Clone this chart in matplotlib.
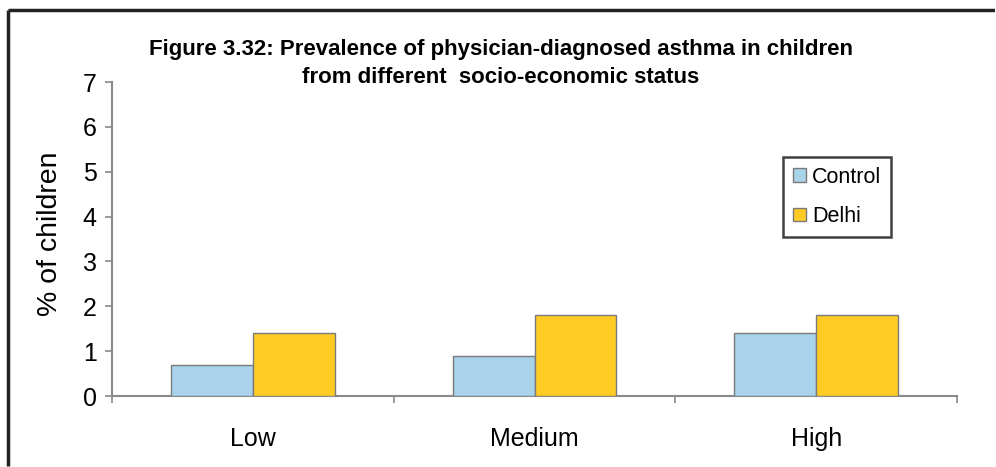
import matplotlib
matplotlib.use("Agg")
import matplotlib.pyplot as plt
from matplotlib.lines import Line2D
import numpy as np

categories = ["Low", "Medium", "High"]
control = [0.7, 0.9, 1.4]
delhi = [1.4, 1.8, 1.8]
series_names = ["Control", "Delhi"]
y_ticks = [0, 1, 2, 3, 4, 5, 6, 7]

title = ("Figure 3.32: Prevalence of physician-diagnosed asthma in children\n"
         "from different  socio-economic status")
ylabel = "% of children"

plt.rcParams["font.family"] = ["Liberation Sans", "DejaVu Sans"]

fig = plt.figure(figsize=(9.96, 4.67), dpi=100)
fig.patch.set_facecolor("white")
fig.patch.set_edgecolor("white")
fig.patch.set_linewidth(0)
ax = fig.add_axes([112 / 996, 1 - 396 / 467, (957 - 112) / 996, (396 - 82) / 467])

x = np.arange(len(categories))
w = 0.29
edge = "#7a7a7a"
ax.bar(x - w / 2, control, w, color="#A9D2EB", edgecolor=edge, linewidth=1.0,
       label=series_names[0], zorder=3)
ax.bar(x + w / 2, delhi, w, color="#FDCB24", edgecolor=edge, linewidth=1.0,
       label=series_names[1], zorder=3)

ax.set_xlim(-0.5, len(categories) - 0.5)
ax.set_ylim(0, 7)
ax.set_yticks(y_ticks)

# category boundaries carry the tick marks, labels sit at the centres
ax.set_xticks(np.arange(len(categories) + 1) - 0.5)
ax.set_xticklabels([])
ax.set_xticks(x, minor=True)
ax.set_xticklabels(categories, minor=True, fontsize=18)
ax.tick_params(axis="x", which="minor", length=0, pad=22)
ax.tick_params(axis="x", which="major", length=5, width=1.2, color="#8a8a8a")
ax.tick_params(axis="y", length=5, width=1.2, color="#8a8a8a", labelsize=18, pad=6)

for s in ["top", "right"]:
    ax.spines[s].set_visible(False)
for s in ["left", "bottom"]:
    ax.spines[s].set_color("#8a8a8a")
    ax.spines[s].set_linewidth(1.5)

ax.set_ylabel(ylabel, fontsize=20.5, labelpad=14)
ax.yaxis.label.set_y(0.5 + 5 / 314)

fig.text(0.503, 1 - 39 / 467, title, ha="center", va="top", fontsize=16,
         fontweight="bold", linespacing=1.42)

leg = ax.legend(loc="upper left", bbox_to_anchor=(783 / 996, 1 - 157 / 467),
                bbox_transform=fig.transFigure, fontsize=15.5, frameon=True,
                fancybox=False, handlelength=0.6, handleheight=0.6,
                handletextpad=0.3, borderpad=0.45, labelspacing=0.85,
                borderaxespad=0)
leg.get_frame().set_edgecolor("#111111")
leg.get_frame().set_linewidth(1.8)

# page frame: top and left edges
frame_kw = dict(transform=fig.transFigure, color="#222222", linewidth=2.5,
                solid_capstyle="butt", snap=False)
fig.add_artist(Line2D([8.5 / 996, 995 / 996], [1 - 10.5 / 467] * 2, **frame_kw))
fig.add_artist(Line2D([8.5 / 996] * 2, [0.5 / 467, 1 - 10.5 / 467], **frame_kw))

fig.savefig("out.png", dpi=100)
